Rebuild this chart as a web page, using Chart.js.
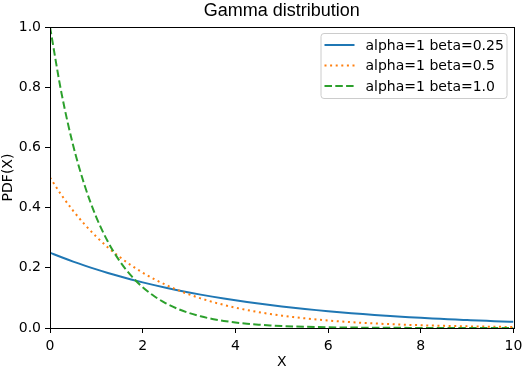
<!DOCTYPE html>
<html>
<head>
<meta charset="utf-8">
<script src="https://cdn.jsdelivr.net/npm/chart.js@4/dist/chart.umd.min.js"></script>
<style>
  html, body { margin: 0; padding: 0; background: #fff; }
  #wrap { width: 522px; height: 367px; position: relative; }
</style>
</head>
<body>
<div id="wrap"><canvas id="myChart"></canvas></div>
<script>
// x positions of the sampled points
const xValues = [
  0, 0.25, 0.5, 0.75, 1, 1.25, 1.5, 1.75, 2, 2.25, 2.5, 2.75, 3, 3.25, 3.5, 3.75,
  4, 4.25, 4.5, 4.75, 5, 5.25, 5.5, 5.75, 6, 6.25, 6.5, 6.75, 7, 7.25, 7.5, 7.75,
  8, 8.25, 8.5, 8.75, 9, 9.25, 9.5, 9.75, 10,
];

// alpha=1 beta=0.25 (blue, solid)
const pdfBeta025 = [
  0.25, 0.2349, 0.2206, 0.2073, 0.1947, 0.1829, 0.1718, 0.1614, 0.1516, 0.1424,
  0.1338, 0.1257, 0.1181, 0.1109, 0.1042, 0.0979, 0.0920, 0.0864, 0.0812, 0.0762,
  0.0716, 0.0673, 0.0632, 0.0594, 0.0558, 0.0524, 0.0492, 0.0462, 0.0434, 0.0408,
  0.0383, 0.0360, 0.0338, 0.0318, 0.0299, 0.0280, 0.0264, 0.0248, 0.0233, 0.0218,
  0.0205,
];

// alpha=1 beta=0.5 (orange, dotted)
const pdfBeta05 = [
  0.5, 0.4412, 0.3894, 0.3436, 0.3033, 0.2676, 0.2362, 0.2084, 0.1839, 0.1623,
  0.1433, 0.1264, 0.1116, 0.0985, 0.0869, 0.0767, 0.0677, 0.0597, 0.0527, 0.0465,
  0.0410, 0.0362, 0.0320, 0.0282, 0.0249, 0.0220, 0.0194, 0.0171, 0.0151, 0.0133,
  0.0118, 0.0104, 0.0092, 0.0081, 0.0071, 0.0063, 0.0056, 0.0049, 0.0043, 0.0038,
  0.0034,
];

// alpha=1 beta=1.0 (green, dashed)
const pdfBeta10 = [
  1.0, 0.7788, 0.6065, 0.4724, 0.3679, 0.2865, 0.2231, 0.1738, 0.1353, 0.1054,
  0.0821, 0.0639, 0.0498, 0.0388, 0.0302, 0.0235, 0.0183, 0.0143, 0.0111, 0.0087,
  0.0067, 0.0052, 0.0041, 0.0032, 0.0025, 0.0019, 0.0015, 0.0012, 0.0009, 0.0007,
  0.0006, 0.0004, 0.0003, 0.0003, 0.0002, 0.0002, 0.0001, 0.0001, 0.0001, 0.0001,
  0.0000,
];

const seriesLabels = ["alpha=1 beta=0.25", "alpha=1 beta=0.5", "alpha=1 beta=1.0"];
const xTicks = [0, 2, 4, 6, 8, 10];
const yTicks = [0.0, 0.2, 0.4, 0.6, 0.8, 1.0];
const chartTitle = "Gamma distribution";

const FONT = "'DejaVu Sans', sans-serif";

function points(ys) {
  return xValues.map((x, i) => ({ x: x, y: ys[i] }));
}

// title centred over the axes, frame around the plot, matplotlib-like legend box
const framePlugin = {
  id: "frame",
  afterDatasetsDraw(chart) {
    const { ctx, chartArea } = chart;
    ctx.save();

    ctx.fillStyle = "#000";
    ctx.font = "18px 'Liberation Sans', Arial, sans-serif";
    ctx.textAlign = "center";
    ctx.textBaseline = "middle";
    ctx.fillText(chartTitle, (chartArea.left + chartArea.right) / 2, chartArea.top - 16);

    ctx.strokeStyle = "#000";
    ctx.lineWidth = 1;
    ctx.strokeRect(
      Math.round(chartArea.left) + 0.5,
      Math.round(chartArea.top) + 0.5,
      Math.round(chartArea.right - chartArea.left),
      Math.round(chartArea.bottom - chartArea.top)
    );

    // legend
    const boxRight = chartArea.right - 7;
    const boxTop = chartArea.top + 6;
    const boxW = 186;
    const rowH = 20.5;
    const boxH = 65;
    const boxLeft = boxRight - boxW;
    ctx.fillStyle = "rgba(255,255,255,0.8)";
    ctx.strokeStyle = "#cccccc";
    ctx.lineWidth = 1;
    ctx.beginPath();
    ctx.roundRect(boxLeft + 0.5, boxTop + 0.5, boxW, boxH, 3);
    ctx.fill();
    ctx.stroke();

    ctx.font = "14px " + FONT;
    ctx.textBaseline = "middle";
    ctx.textAlign = "left";
    chart.data.datasets.forEach((ds, i) => {
      const y = boxTop + 12 + i * rowH;
      ctx.strokeStyle = ds.borderColor;
      ctx.lineWidth = ds.borderWidth;
      ctx.setLineDash(ds.borderDash || []);
      ctx.beginPath();
      ctx.moveTo(boxLeft + 4, y);
      ctx.lineTo(boxLeft + 34, y);
      ctx.stroke();
      ctx.setLineDash([]);
      ctx.fillStyle = "#000";
      ctx.fillText(ds.label, boxLeft + 45, y + 1);
    });
    ctx.restore();
  },
};

const ctx = document.getElementById("myChart").getContext("2d");
new Chart(ctx, {
  type: "line",
  data: {
    datasets: [
      {
        label: seriesLabels[0],
        data: points(pdfBeta025),
        borderColor: "#1f77b4",
        borderWidth: 2,
        order: 2,
      },
      {
        label: seriesLabels[1],
        data: points(pdfBeta05),
        borderColor: "#ff7f0e",
        borderWidth: 2,
        borderDash: [2, 3.6],
        order: 1,
      },
      {
        label: seriesLabels[2],
        data: points(pdfBeta10),
        borderColor: "#2ca02c",
        borderWidth: 2,
        borderDash: [7.5, 3.3],
        order: 0,
      },
    ],
  },
  options: {
    responsive: true,
    maintainAspectRatio: false,
    animation: false,
    devicePixelRatio: 1,
    layout: { padding: { left: 0, right: 0, top: 27, bottom: 0 } },
    elements: {
      point: { radius: 0 },
      line: { fill: false, cubicInterpolationMode: "monotone", borderCapStyle: "butt" },
    },
    scales: {
      x: {
        type: "linear",
        min: 0,
        max: 10,
        afterBuildTicks: (axis) => {
          axis.ticks = xTicks.map((v) => ({ value: v }));
        },
        afterFit: (axis) => {
          axis.height = 39;
          axis.paddingRight = 8.5;
        },
        ticks: {
          color: "#000",
          padding: 5,
          font: { family: FONT, size: 14 },
          maxRotation: 0,
        },
        grid: { drawOnChartArea: false, drawTicks: true, tickLength: 5, color: "#000" },
        border: { display: false },
        title: {
          display: true,
          text: "X",
          color: "#000",
          font: { family: FONT, size: 14 },
          padding: { top: 0, bottom: -4 },
        },
      },
      y: {
        min: 0,
        max: 1,
        afterBuildTicks: (axis) => {
          axis.ticks = yTicks.map((v) => ({ value: v }));
        },
        afterFit: (axis) => {
          axis.width = 50;
        },
        ticks: {
          color: "#000",
          padding: 4,
          font: { family: FONT, size: 14 },
          callback: (v) => Number(v).toFixed(1),
        },
        grid: { drawOnChartArea: false, drawTicks: true, tickLength: 5, color: "#000" },
        border: { display: false },
        title: {
          display: true,
          text: "PDF(X)",
          color: "#000",
          font: { family: FONT, size: 14 },
          padding: { top: 0, bottom: 0 },
        },
      },
    },
    plugins: {
      legend: { display: false },
      tooltip: { enabled: false },
      title: { display: false },
    },
  },
  plugins: [framePlugin],
});
</script>
</body>
</html>
